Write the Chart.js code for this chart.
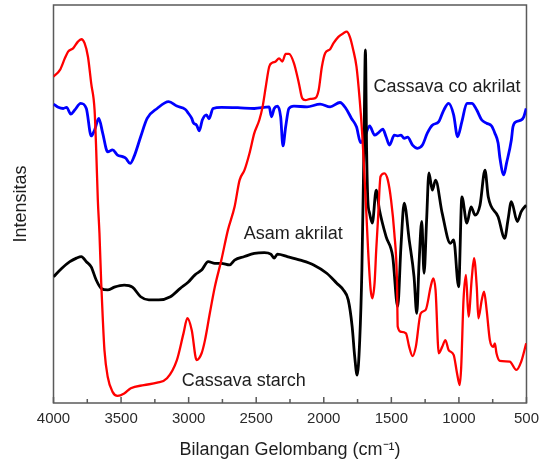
<!DOCTYPE html>
<html>
<head>
<meta charset="utf-8">
<script src="https://cdn.jsdelivr.net/npm/chart.js@4/dist/chart.umd.min.js"></script>
<style>
html,body{margin:0;padding:0;background:#fff;}
canvas{display:block;}
</style>
</head>
<body>
<canvas id="c" width="546" height="462"></canvas>
<script>
// Wavenumber (cm-1) and intensity (arbitrary units, 0-100)
const starchWn = [4000,3952,3916,3892,3855,3819,3794,3770,3745,3721,3696,3684,3672,3660,3647,3636,3623,3599,3563,3526,3477,3428,3331,3233,3160,3087,3038,3009,2977,2941,2904,2879,2843,2806,2758,2709,2660,2623,2587,2550,2514,2477,2453,2429,2404,2380,2356,2331,2307,2282,2258,2221,2184,2160,2136,2100,2063,2038,2014,1990,1953,1928,1892,1855,1831,1807,1782,1758,1734,1716,1702,1690,1685,1672,1653,1641,1624,1612,1599,1580,1551,1526,1502,1478,1458,1453,1429,1392,1368,1343,1319,1283,1246,1209,1190,1173,1149,1124,1100,1076,1039,1014,994,983,966,948,929,904,888,868,856,831,814,795,771,746,734,722,697,624,575,539,502];
const starchI  = [82.0,83.7,86.6,88.3,89.1,90.8,91.4,90.4,87.0,80.3,73.6,63.6,51.0,42.7,30.2,21.7,13.3,6.6,2.8,1.8,2.4,3.7,4.5,5.1,6.2,10.8,17.5,21.3,18.3,10.8,12.5,15.8,22.6,29.2,35.9,43.5,49.3,56.0,58.5,62.7,67.8,71.1,74.4,79.5,84.5,85.5,85.8,86.6,85.8,87.7,87.7,85.4,80.3,76.6,76.1,76.4,76.6,78.6,84.5,87.9,88.9,90.4,92.0,92.9,93.3,92.0,88.7,84.5,76.1,67.8,59.4,51.0,47.7,38.4,28.4,26.3,30.2,38.4,46.0,56.9,57.7,56.0,51.0,42.7,30.2,19.2,17.9,17.5,14.1,11.8,14.1,22.5,23.4,29.2,31.3,28.4,12.5,14.1,15.8,13.3,12.1,7.5,4.5,9.1,25.9,32.2,21.7,31.7,36.4,29.2,21.3,25.9,28.0,23.4,15.8,14.1,15.0,12.5,10.6,10.4,8.3,10.4,15.0];

const acidWn = [4000,3940,3879,3830,3794,3757,3721,3684,3647,3599,3550,3477,3416,3355,3294,3221,3135,3062,3002,2953,2904,2855,2806,2758,2697,2660,2587,2514,2440,2392,2367,2343,2270,2173,2075,1978,1904,1855,1819,1790,1771,1753,1734,1718,1703,1692,1683,1674,1661,1641,1612,1588,1539,1490,1453,1429,1405,1368,1332,1312,1295,1275,1258,1239,1222,1197,1173,1124,1063,1039,1002,978,941,910,880,844,807,783,710,661,637,612,568,539,502];
const acidI  = [31.7,33.8,35.5,36.4,36.8,35.5,34.2,30.9,28.8,28.4,29.1,29.6,29.1,26.7,25.9,25.9,26.7,28.8,30.4,32.2,33.4,35.5,35.1,35.1,34.7,35.9,36.8,37.6,37.8,37.4,36.4,37.4,36.8,35.9,34.7,32.6,30.1,28.4,25.9,19.2,11.6,7.0,15.8,33.4,63.6,88.7,63.6,51.0,47.7,45.2,53.5,48.5,41.8,36.8,24.2,39.3,50.2,41.0,31.7,22.5,35.1,45.6,32.6,46.0,57.8,53.5,56.0,47.7,40.1,41.0,29.2,51.8,45.2,49.3,47.2,49.7,58.5,51.8,46.8,41.4,46.0,50.6,45.6,48.1,49.7];

const copolyWn = [4000,3965,3928,3903,3872,3843,3799,3757,3721,3696,3665,3636,3599,3563,3526,3489,3465,3433,3404,3355,3307,3233,3148,3087,3026,3002,2977,2965,2941,2921,2899,2868,2850,2819,2758,2636,2514,2404,2387,2367,2343,2319,2302,2282,2258,2221,2124,2027,1953,1880,1836,1795,1758,1727,1697,1661,1624,1599,1563,1539,1514,1478,1453,1429,1405,1380,1343,1307,1270,1234,1197,1149,1112,1076,1039,1010,978,941,904,868,831,795,758,734,710,697,668,648,612,600,575,539,520,502];
const copolyI  = [75.1,74.3,74.0,74.3,72.6,73.6,75.3,74.0,67.1,68.6,71.5,67.8,63.1,63.6,62.3,61.9,61.5,60.2,61.9,66.9,71.5,74.0,75.7,74.6,73.8,72.8,71.5,70.4,69.8,68.4,71.1,72.4,71.4,74.0,74.3,74.2,74.0,74.4,71.9,74.0,74.6,71.9,64.6,69.4,74.0,74.6,74.4,75.1,74.4,75.5,74.0,71.5,69.4,65.4,66.9,69.6,67.3,67.8,68.8,66.9,64.8,67.3,67.1,67.3,66.5,66.8,64.8,64.0,64.8,67.8,69.8,70.7,73.6,75.3,72.4,66.9,70.7,75.3,75.3,73.6,71.1,70.3,69.6,67.8,65.3,61.6,57.3,60.2,66.1,69.4,70.7,71.1,71.9,74.0];

const xTickValues = [4000,3500,3000,2500,2000,1500,1000,500];

const labelTexts = ['Cassava co akrilat','Asam akrilat','Cassava starch'];
const labelWn    = [1632, 2592, 3051];
const labelI     = [79.4, 42.5, 5.4];

const toPts = (wn, iv) => wn.map((w, i) => ({x: w, y: iv[i]}));

const FONT = "'Liberation Sans', Arial, sans-serif";
Chart.defaults.font.family = FONT;

const boxPlugin = {
  id: 'boxAndTicks',
  beforeDatasetsDraw(chart) {
    const {ctx, chartArea: a, scales: {x}} = chart;
    ctx.save();
    ctx.strokeStyle = '#5a5a5a';
    ctx.lineWidth = 1.5;
    ctx.strokeRect(a.left, a.top, a.right - a.left, a.bottom - a.top);
    ctx.beginPath();
    for (let w = 500; w <= 4000; w += 250) {
      const px = x.getPixelForValue(w);
      const len = (w % 500 === 0) ? 6 : 4;
      ctx.moveTo(px, a.bottom);
      ctx.lineTo(px, a.bottom - len);
    }
    ctx.stroke();
    ctx.restore();
  },
  afterDatasetsDraw(chart) {
    const {ctx, scales: {x, y}} = chart;
    ctx.save();
    ctx.fillStyle = '#1e1e1e';
    ctx.font = '18px ' + FONT;
    ctx.textAlign = 'left';
    ctx.textBaseline = 'middle';
    labelTexts.forEach((t, i) => {
      ctx.fillText(t, x.getPixelForValue(labelWn[i]), y.getPixelForValue(labelI[i]));
    });
    ctx.restore();
  }
};

new Chart(document.getElementById('c'), {
  type: 'line',
  data: {
    datasets: [
      {label: 'Cassava starch', data: toPts(starchWn, starchI), borderColor: '#ff0000', borderWidth: 2.3},
      {label: 'Asam akrilat', data: toPts(acidWn, acidI), borderColor: '#000000', borderWidth: 2.8},
      {label: 'Cassava co akrilat', data: toPts(copolyWn, copolyI), borderColor: '#0000ff', borderWidth: 2.8}
    ]
  },
  options: {
    responsive: false,
    animation: false,
    devicePixelRatio: 1,
    datasets: {line: {pointRadius: 0, cubicInterpolationMode: 'monotone', fill: false}},
    layout: {padding: {top: 5, right: 14, left: 0, bottom: 0}},
    plugins: {legend: {display: false}, tooltip: {enabled: false}},
    scales: {
      x: {
        type: 'linear',
        reverse: true,
        min: 500, max: 4000,
        grid: {display: false, drawTicks: false},
        border: {display: false},
        ticks: {
          stepSize: 250,
          autoSkip: false,
          maxRotation: 0,
          padding: 7,
          color: '#2a2a2a',
          font: {size: 15},
          callback: (v) => xTickValues.includes(v) ? String(v) : ''
        },
        title: {display: true, text: 'Bilangan Gelombang (cm⁻¹)', color: '#1e1e1e', font: {size: 18}, padding: {top: 0, bottom: 1}},
        afterFit: (s) => { s.height = 59; }
      },
      y: {
        min: 0, max: 100,
        grid: {display: false, drawTicks: false},
        border: {display: false},
        ticks: {display: false},
        title: {display: true, text: 'Intensitas', color: '#1e1e1e', font: {size: 18}, padding: {top: 10, bottom: 0}},
        afterFit: (s) => { s.width = 53.5; }
      }
    }
  },
  plugins: [boxPlugin]
});
</script>
</body>
</html>
